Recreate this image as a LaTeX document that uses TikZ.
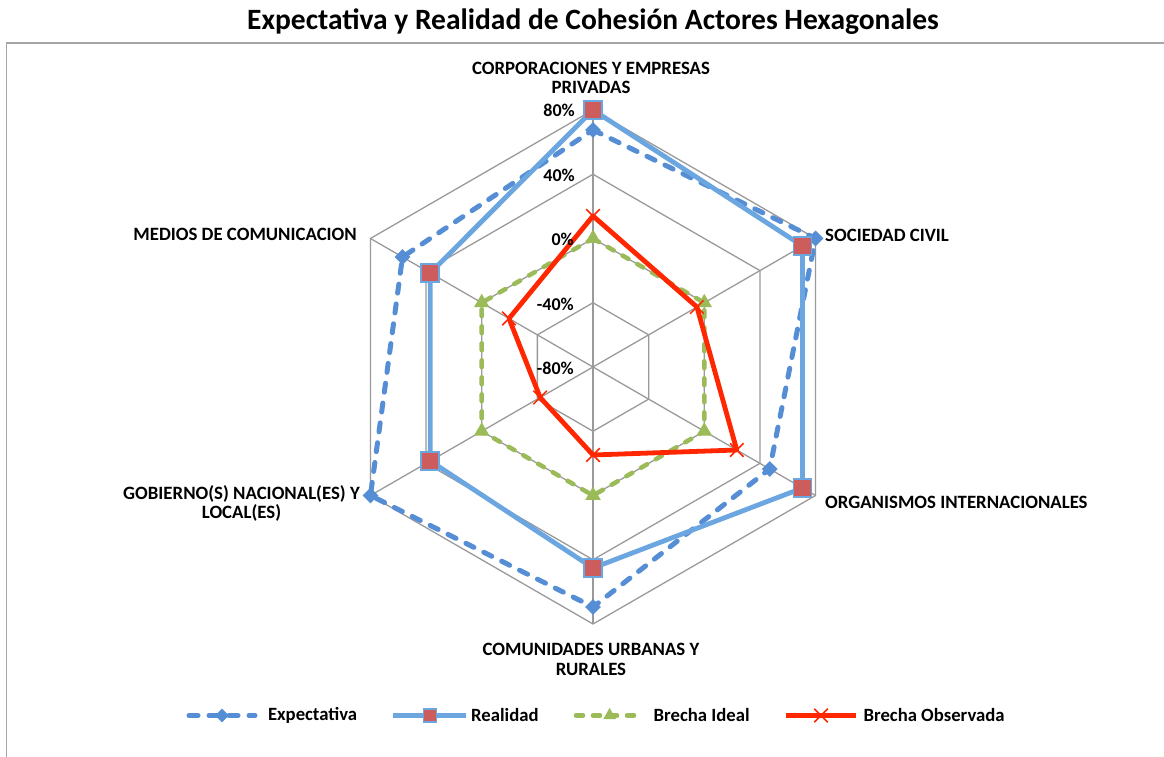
\documentclass[tikz,border=0pt]{standalone}
\usepackage{fontspec}
\setmainfont{Carlito}
\usetikzlibrary{shapes.geometric,shapes.misc}
\definecolor{expc}{HTML}{558ED5}
\definecolor{realc}{HTML}{6CA6E0}
\definecolor{sqc}{HTML}{CD5C5C}
\definecolor{idealc}{HTML}{9BBB59}
\definecolor{obsc}{HTML}{FF2600}
\definecolor{gridc}{HTML}{9A9A9A}
\definecolor{framec}{HTML}{A6A6A6}
\begin{document}
\begin{tikzpicture}[x=1pt,y=1pt,
  gridline/.style={draw=gridc, line width=1.3pt},
  expline/.style={draw=expc, line width=5pt, dash pattern=on 9pt off 11pt, line cap=round, line join=round},
  realline/.style={draw=realc, line width=4.8pt, line join=round},
  idealline/.style={draw=idealc, line width=4.5pt, dash pattern=on 7pt off 10pt, line cap=round, line join=round},
  obsline/.style={draw=obsc, line width=4.8pt, line join=round},
  expmark/.style={diamond, fill=expc, inner sep=0pt, minimum size=16pt},
  realmark/.style={rectangle, fill=sqc, draw=realc, line width=1.5pt, inner sep=0pt, minimum size=18pt},
  idealmark/.style={regular polygon, regular polygon sides=3, fill=idealc, inner sep=0pt, minimum size=18pt},
  obsmark/.style={cross out, draw=obsc, line width=1.5pt, inner sep=0pt, minimum size=12pt},
  axlabel/.style={font=\fontsize{18.8}{19.5}\selectfont\bfseries, align=center, inner sep=0pt},
  pctlabel/.style={font=\fontsize{18}{19}\selectfont\bfseries, anchor=base east, inner sep=0pt},
  leglabel/.style={font=\fontsize{18.7}{19}\selectfont\bfseries, anchor=west, inner sep=0pt}
]
\useasboundingbox (0,0) rectangle (1164,757);
\fill[white] (0,0) rectangle (1164,757);
% frame
\draw[framec, line width=1.6pt] (6.5,0) -- (6.5,714) -- (1164,714);
% title
\node[font=\fontsize{29.5}{34}\selectfont\bfseries, anchor=base, inner sep=0pt] (title) at (593,727.5) {Expectativa y Realidad de Cohesión Actores Hexagonales};

\begin{scope}[shift={(593,390)}]
  \coordinate (c) at (0,0);
  % grid rings
  \foreach \r in {64.25,128.5,192.75,257}
    \draw[gridline] (90:\r) -- (30:\r) -- (-30:\r) -- (-90:\r) -- (-150:\r) -- (150:\r) -- cycle;
  \foreach \a in {90,30,-30,-90,-150,150}
    \draw[gridline] (c) -- (\a:257);
  % data points
  \coordinate (E1) at (90:237);  \coordinate (E2) at (30:257);  \coordinate (E3) at (-30:204);
  \coordinate (E4) at (-90:240); \coordinate (E5) at (-150:257); \coordinate (E6) at (150:220);
  \coordinate (R1) at (90:257);  \coordinate (R2) at (30:242);  \coordinate (R3) at (-30:242);
  \coordinate (R4) at (-90:201); \coordinate (R5) at (-150:188); \coordinate (R6) at (150:188);
  \coordinate (I1) at (90:128.5);  \coordinate (I2) at (30:128.5);  \coordinate (I3) at (-30:128.5);
  \coordinate (I4) at (-90:128.5); \coordinate (I5) at (-150:128.5); \coordinate (I6) at (150:128.5);
  \coordinate (O1) at (90:151);  \coordinate (O2) at (30:120);  \coordinate (O3) at (-30:166);
  \coordinate (O4) at (-90:88);  \coordinate (O5) at (-150:61); \coordinate (O6) at (150:97);
  % series
  \draw[expline] (E1) -- (E2) -- (E3) -- (E4) -- (E5) -- (E6) -- cycle;
  \foreach \i in {1,...,6} \node[expmark] (mE\i) at (E\i) {};
  \draw[realline] (R1) -- (R2) -- (R3) -- (R4) -- (R5) -- (R6) -- cycle;
  \foreach \i in {1,...,6} \node[realmark] (mR\i) at (R\i) {};
  \draw[idealline] (I1) -- (I2) -- (I3) -- (I4) -- (I5) -- (I6) -- cycle;
  \foreach \i in {1,...,6} \node[idealmark] (mI\i) at (I\i) {};
  \draw[obsline] (O1) -- (O2) -- (O3) -- (O4) -- (O5) -- (O6) -- cycle;
  \foreach \i in {1,...,6} \node[obsmark] (mO\i) at (O\i) {};
\end{scope}

% percent labels
\node[pctlabel] (p80) at (575,640.3) {80\%};
\node[pctlabel] (p40) at (575,575.8) {40\%};
\node[pctlabel] (p0) at (574,511.3) {0\%};
\node[pctlabel] (pm40) at (574,446.8) {-40\%};
\node[pctlabel] (pm80) at (574,382.3) {-80\%};

% axis labels
\node[axlabel] (lcorp) at (591,679) {CORPORACIONES Y EMPRESAS\\PRIVADAS};
\node[axlabel, anchor=base west] (lsoc) at (825,515.3) {SOCIEDAD CIVIL};
\node[axlabel, anchor=base west] (lorg) at (825,248) {ORGANISMOS INTERNACIONALES};
\node[axlabel] (lcom) at (591,97.5) {COMUNIDADES URBANAS Y\\RURALES};
\node[axlabel] (lgob) at (241.5,253.7) {GOBIERNO(S) NACIONAL(ES) Y\\LOCAL(ES)};
\node[axlabel, anchor=base east] (lmed) at (357,516) {MEDIOS DE COMUNICACION};

% legend
\coordinate (la1) at (189,41.5); \coordinate (la2) at (255,41.5);
\draw[expline] (la1) -- (la2);
\node[expmark, minimum size=14pt] (lma) at (222,41.5) {};
\node[leglabel] (lta) at (267.8,41.5) {Expectativa};
\coordinate (lb1) at (393,41.5); \coordinate (lb2) at (466,41.5);
\draw[realline] (lb1) -- (lb2);
\node[realmark, minimum size=13pt] (lmb) at (430,41.5) {};
\node[leglabel] (ltb) at (471,41.5) {Realidad};
\coordinate (lc1) at (576,41.5); \coordinate (lc2) at (642,41.5);
\draw[idealline] (lc1) -- (lc2);
\node[idealmark, minimum size=15pt] (lmc) at (609.6,41.5) {};
\node[leglabel] (ltc) at (653.5,41.5) {Brecha Ideal};
\coordinate (ld1) at (786,41.5); \coordinate (ld2) at (856,41.5);
\draw[obsline] (ld1) -- (ld2);
\node[obsmark] (lmd) at (821,41.5) {};
\node[leglabel] (ltd) at (863.4,41.5) {Brecha Observada};
\end{tikzpicture}
\end{document}
